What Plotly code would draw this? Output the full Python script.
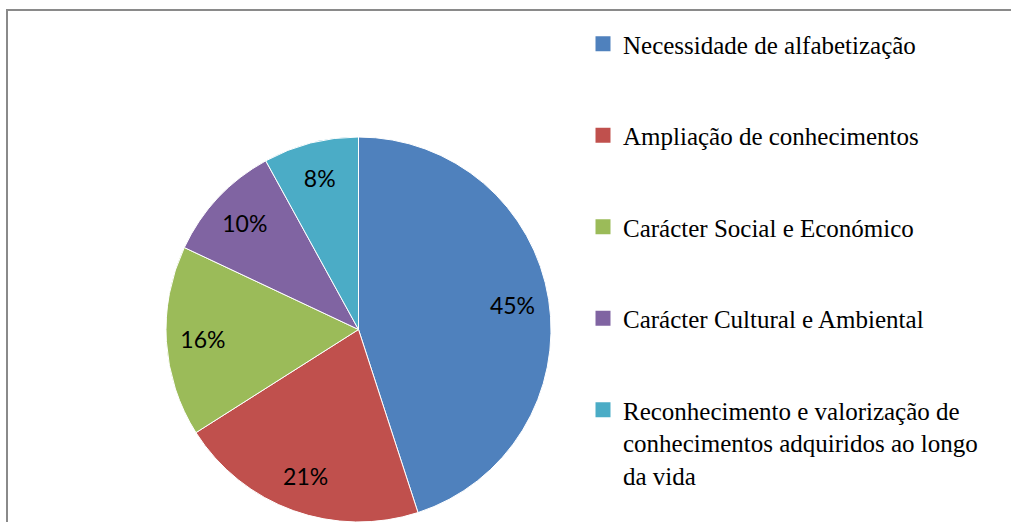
import textwrap
import plotly.graph_objects as go

# dados do gráfico
categorias = [
    "Necessidade de alfabetização",
    "Ampliação de conhecimentos",
    "Carácter Social e Económico",
    "Carácter Cultural e Ambiental",
    "Reconhecimento e valorização de conhecimentos adquiridos ao longo da vida",
]
percentagens = [45, 21, 16, 10, 8]
cores = ["#4F81BD", "#C0504D", "#9BBB59", "#8064A2", "#4BACC6"]

dominio = dict(x=[166 / 1011, 551 / 1011], y=[0, 1 - 137 / 522])

fig = go.Figure()
fig.add_trace(go.Pie(
    labels=categorias, values=percentagens, sort=False, direction="clockwise",
    marker=dict(colors=cores, line=dict(color="white", width=1)),
    textinfo="none", domain=dominio, showlegend=False,
))
# anel transparente só para posicionar as percentagens a ~80% do raio
fig.add_trace(go.Pie(
    labels=categorias, values=percentagens, sort=False, direction="clockwise",
    hole=0.62, marker=dict(colors=["rgba(0,0,0,0)"] * len(cores)),
    texttemplate="%{percent:.0%}", textposition="inside",
    insidetextorientation="horizontal",
    textfont=dict(family="Lato, Open Sans, sans-serif", size=23, color="black"),
    domain=dominio, showlegend=False, hoverinfo="skip",
))

# legenda: uma entrada por categoria, em grupos separados para controlar o espaçamento
for i, (cat, cor) in enumerate(zip(categorias, cores)):
    fig.add_trace(go.Scatter(
        x=[None], y=[None], mode="markers", name="<br>".join(textwrap.wrap(cat, 33)),
        marker=dict(symbol="square", size=15, color=cor, line=dict(width=0)),
        legendgroup=f"g{i}", hoverinfo="skip",
    ))

fig.update_layout(
    width=1011, height=522,
    margin=dict(l=0, r=0, t=0, b=0),
    paper_bgcolor="white", plot_bgcolor="white",
    xaxis=dict(visible=False), yaxis=dict(visible=False),
    legend=dict(
        x=583 / 1011, y=1 - 21 / 522, xanchor="left", yanchor="top",
        valign="top", traceorder="grouped", tracegroupgap=56,
        font=dict(family="Liberation Serif, Times New Roman, serif", size=25, color="black"),
    ),
    shapes=[dict(type="rect", xref="paper", yref="paper",
                 x0=7 / 1011, x1=1.02, y0=-0.02, y1=1 - 10 / 522,
                 line=dict(color="#8a8a8a", width=2))],
)

fig.write_html("out.html", config={"displayModeBar": False},
               post_script="document.body.style.margin='0';")
